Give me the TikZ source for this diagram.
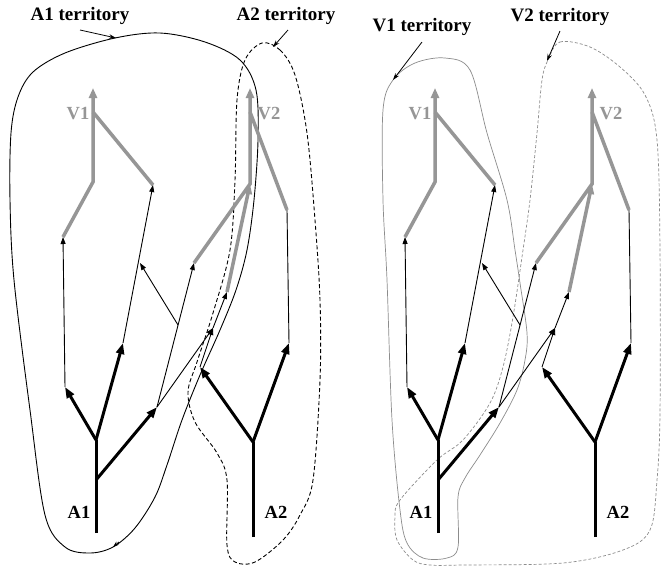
\documentclass[tikz,border=0pt]{standalone}
\usepackage{fontspec}
\setmainfont{Liberation Serif}
\usetikzlibrary{arrows.meta,calc}
\definecolor{vgray}{RGB}{150,150,150}
\definecolor{tgray}{RGB}{140,140,140}
\tikzset{
  thickarr/.style={line width=3pt,-{Triangle[length=11pt,width=8pt]}},
  thickline/.style={line width=3pt},
  thinarr/.style={line width=0.9pt,-{Triangle[length=7pt,width=5pt]}},
  thinline/.style={line width=0.9pt},
  grayline/.style={line width=3.5pt,vgray},
  grayarr/.style={line width=3.5pt,vgray,-{Triangle[length=10pt,width=8pt]}},
  lbl/.style={font=\fontsize{18.5}{20}\selectfont\bfseries,inner sep=0pt},
  vlbl/.style={lbl,text=vgray},
  tlbl/.style={font=\fontsize{19}{21}\selectfont\bfseries,inner sep=0pt},
  pointer/.style={line width=0.8pt,-{Stealth[length=7pt,width=4.5pt]}},
  terrA1/.style={line width=0.9pt,black},
  terrA2/.style={line width=0.9pt,black,dash pattern=on 4pt off 2.5pt},
  terrV1/.style={line width=0.7pt,tgray},
  terrV2/.style={line width=0.7pt,tgray,dash pattern=on 3pt off 2pt},
}
\newcommand\drawnet{%
  % A1 tree
  \coordinate (b1) at (96,533);
  \coordinate (f1) at (96,440);
  \coordinate (s1) at (96,480);
  \coordinate (a1L) at (65,387);
  \coordinate (a1R) at (123,343);
  \coordinate (a1S) at (157,407);
  % A2 tree
  \coordinate (b2) at (253,537);
  \coordinate (f2) at (253,442);
  \coordinate (a2L) at (200,367);
  \coordinate (a2R) at (289,343);
  % thin-line ends
  \coordinate (t1) at (63,237);
  \coordinate (t2) at (153,185);
  \coordinate (t3) at (140,263);
  \coordinate (t4) at (194,263);
  \coordinate (m1) at (213,328);
  \coordinate (t5) at (227,292);
  \coordinate (t6) at (287,210);
  \coordinate (j1) at ($(a1S)!0.569!(t4)$);
  % V trees
  \coordinate (v1k) at (93,182);
  \coordinate (v1m) at (93,112);
  \coordinate (v1t) at (93,88);
  \coordinate (v2k) at (250,184);
  \coordinate (v2m) at (250,112);
  \coordinate (v2t) at (250,88);
  % gray V1
  \draw[grayarr] (t1) -- (v1k) -- (v1t);
  \draw[grayline] (t2) -- (v1m);
  % gray V2
  \draw[grayarr] (t4) -- (v2k) -- (v2t);
  \draw[grayarr] (t5) -- (v2k);
  \draw[grayline] (t6) -- (v2m);
  \node[vlbl] (V1) at (78,114) {V1};
  \node[vlbl] (V2) at (269,114) {V2};
  % thin lines
  \draw[thinarr] (a1L) -- (t1);
  \draw[thinarr] (a1R) -- (t2);
  \draw[thinarr] (a1S) -- (t4);
  \draw[thinarr] (j1) -- (t3);
  \draw[thinarr] (a1S) -- (m1);
  \draw[thinarr] (a2L) -- (m1);
  \draw[thinarr] (m1) -- (t5);
  \draw[thinline] (a2R) -- (t6);
  % thick A1
  \draw[thickline] (b1) -- (f1);
  \draw[thickarr] (f1) -- (a1L);
  \draw[thickarr] (f1) -- (a1R);
  \draw[thickarr] (s1) -- (a1S);
  % thick A2
  \draw[thickline] (b2) -- (f2);
  \draw[thickarr] (f2) -- (a2L);
  \draw[thickarr] (f2) -- (a2R);
  \node[lbl] (A1) at (79,512) {A1};
  \node[lbl] (A2) at (276,512) {A2};
}
\begin{document}
\begin{tikzpicture}[x=1pt,y=-1pt]
  \useasboundingbox (0,0) rectangle (661,566);
  \fill[white] (0,0) rectangle (661,566);
  % territories
  \draw[terrA1] plot[smooth cycle,tension=0.55] coordinates {
    (115,38) (160,33) (205,42) (240,60) (256,90) (258,140) (254,200)
    (247,250) (236,290) (220,330) (200,375) (182,420) (167,465) (155,497)
    (135,528) (113,547) (90,553) (65,547) (45,515) (30,410) (14,280)
    (10,200) (11,133) (18,97) (33,72) (65,53)};
  \coordinate (a1arr) at (113,547);
  \draw[line width=0.8pt,-{Stealth[length=6pt,width=4pt]}] (119,542) -- (a1arr);
  \draw[terrA2] plot[smooth cycle,tension=0.55] coordinates {
    (262,43) (280,50) (295,75) (307,133) (315,220) (320,300) (320,380)
    (313,480) (300,515) (283,540) (255,562) (235,562) (227,545) (227,480)
    (217,453) (195,422) (188,392) (197,362) (213,313) (230,250) (235,180)
    (237,100) (245,60)};
  \draw[terrV1] plot[smooth cycle,tension=0.55] coordinates {
    (393,80) (415,63) (445,58) (470,70) (487,133) (507,200) (515,250)
    (520,283) (527,333) (525,360) (517,390) (500,423) (480,455) (465,478)
    (458,497) (458,547) (447,558) (423,558) (407,543) (400,510) (392,420)
    (387,280) (383,200) (383,110)};
  \draw[terrV2] plot[smooth cycle,tension=0.55] coordinates {
    (548,60) (560,42) (590,47) (620,67) (645,95) (657,140) (660,250)
    (660,413) (657,480) (650,530) (623,550) (563,563) (463,565) (430,565)
    (413,560) (397,540) (395,517) (400,500) (437,460) (463,440) (490,403)
    (503,367) (513,317) (523,250) (530,200) (537,133) (542,80)};
  % networks
  \begin{scope}[name prefix=L-]
    \drawnet
  \end{scope}
  \begin{scope}[xshift=342pt,name prefix=R-]
    \drawnet
  \end{scope}
  % territory labels
  \node[tlbl] (tA1) at (80,16) {A1 territory};
  \node[tlbl] (tA2) at (286,16) {A2 territory};
  \node[tlbl] (tV1) at (422,27) {V1 territory};
  \node[tlbl] (tV2) at (560,17) {V2 territory};
  \coordinate (pA1) at (116,38);
  \coordinate (pA2) at (273,47);
  \coordinate (pV1) at (393,80);
  \coordinate (pV2) at (547,61);
  \draw[pointer] (80,30) -- (pA1);
  \draw[pointer] (288,30) -- (pA2);
  \draw[pointer] (422,42) -- (pV1);
  \draw[pointer] (560,31) -- (pV2);
\end{tikzpicture}
\end{document}
